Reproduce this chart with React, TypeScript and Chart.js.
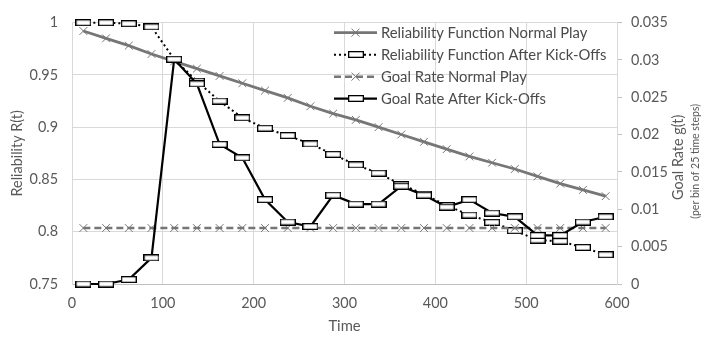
import React, { useEffect, useRef } from "react";
import { Chart, registerables } from "chart.js";

Chart.register(...registerables);

// ---- data ----
const times = [12.5, 37.5, 62.5, 87.5, 112.5, 137.5, 162.5, 187.5, 212.5, 237.5, 262.5, 287.5,
  312.5, 337.5, 362.5, 387.5, 412.5, 437.5, 462.5, 487.5, 512.5, 537.5, 562.5, 587.5];

const reliabilityNormal = [0.992, 0.985, 0.978, 0.970, 0.963, 0.956, 0.949, 0.942, 0.935, 0.928, 0.920, 0.913,
  0.907, 0.900, 0.893, 0.886, 0.879, 0.872, 0.866, 0.860, 0.853, 0.846, 0.840, 0.834];

const reliabilityAfter = [1.0, 1.0, 0.999, 0.996, 0.965, 0.944, 0.925, 0.909, 0.899, 0.892, 0.884, 0.874,
  0.864, 0.856, 0.845, 0.836, 0.825, 0.816, 0.809, 0.801, 0.792, 0.791, 0.785, 0.778];

const goalNormal = [0.0075, 0.0075, 0.0075, 0.0075, 0.0075, 0.0075, 0.0075, 0.0075, 0.0075, 0.0075, 0.0075, 0.0075,
  0.0075, 0.0075, 0.0075, 0.0075, 0.0075, 0.0075, 0.0075, 0.0075, 0.0075, 0.0075, 0.0075, 0.0075];

const goalAfter = [0, 0, 0.0006, 0.0035, 0.0301, 0.0268, 0.0187, 0.0169, 0.0113, 0.0083, 0.0077, 0.0119,
  0.0107, 0.0107, 0.0131, 0.0119, 0.0103, 0.0113, 0.0095, 0.0090, 0.0065, 0.0065, 0.0083, 0.0090];

const xTicks = [0, 100, 200, 300, 400, 500, 600];
const leftTicks = [0.75, 0.8, 0.85, 0.9, 0.95, 1];
const rightTicks = [0, 0.005, 0.01, 0.015, 0.02, 0.025, 0.03, 0.035];

const seriesNames = [
  "Reliability Function Normal Play",
  "Reliability Function After Kick-Offs",
  "Goal Rate Normal Play",
  "Goal Rate After Kick-Offs",
];

const FONT = "Lato, 'Open Sans', sans-serif";
const TEXT = "#595959";
const LEGEND_TEXT = "#4a4a4a";
const GRAY = "#767676";
const GRID = "#d9d9d9";
const TICK_SIZE = 14.4;

function makeDash(): HTMLCanvasElement {
  const c = document.createElement("canvas");
  c.width = 16;
  c.height = 7;
  const ctx = c.getContext("2d")!;
  ctx.fillStyle = "#000000";
  ctx.fillRect(0, 0, 16, 7);
  ctx.fillStyle = "#ffffff";
  ctx.fillRect(1.3, 1.3, 13.4, 4.4);
  return c;
}

export default function App() {
  const ref = useRef<HTMLCanvasElement | null>(null);

  useEffect(() => {
    document.body.style.margin = "0";
    const canvas = ref.current!;
    const dash = makeDash();
    const pts = (vals: number[]) => vals.map((v, i) => ({ x: times[i], y: v }));

    const legendPlugin = {
      id: "customLegendAndTitle",
      afterDraw(chart: any) {
        const ctx = chart.ctx as CanvasRenderingContext2D;
        const ca = chart.chartArea;
        // right axis title
        ctx.save();
        ctx.fillStyle = TEXT;
        ctx.textAlign = "center";
        ctx.textBaseline = "middle";
        ctx.translate(chart.width - 23, (ca.top + ca.bottom) / 2 + 4);
        ctx.rotate(-Math.PI / 2);
        ctx.font = `14.4px ${FONT}`;
        ctx.fillText("Goal Rate g(t)", 0, 0);
        ctx.font = `10.5px ${FONT}`;
        ctx.fillText("(per bin of 25 time steps)", -4, 18);
        ctx.restore();

        // legend
        const x0 = ca.left + 262;
        const x1 = ca.left + 305;
        const xm = (x0 + x1) / 2;
        const rows = [ca.top + 10, ca.top + 32, ca.top + 54, ca.top + 76];
        ctx.save();
        rows.forEach((y, i) => {
          ctx.beginPath();
          ctx.moveTo(x0, y);
          ctx.lineTo(x1, y);
          if (i === 0) { ctx.strokeStyle = GRAY; ctx.lineWidth = 2.8; ctx.setLineDash([]); }
          if (i === 1) { ctx.strokeStyle = "#000"; ctx.lineWidth = 2; ctx.setLineDash([2, 3]); }
          if (i === 2) { ctx.strokeStyle = GRAY; ctx.lineWidth = 2.5; ctx.setLineDash([7, 4]); }
          if (i === 3) { ctx.strokeStyle = "#000"; ctx.lineWidth = 2.2; ctx.setLineDash([]); }
          ctx.stroke();
          ctx.setLineDash([]);
          if (i === 0 || i === 2) {
            ctx.strokeStyle = GRAY;
            ctx.lineWidth = 1;
            ctx.beginPath();
            ctx.moveTo(xm - 4, y - 4); ctx.lineTo(xm + 4, y + 4);
            ctx.moveTo(xm - 4, y + 4); ctx.lineTo(xm + 4, y - 4);
            ctx.stroke();
          } else {
            ctx.drawImage(dash, Math.round(xm - dash.width / 2), Math.round(y - dash.height / 2));
          }
          ctx.fillStyle = LEGEND_TEXT;
          ctx.font = `14.8px ${FONT}`;
          ctx.textAlign = "left";
          ctx.textBaseline = "middle";
          ctx.fillText(seriesNames[i], x1 + 4, y + 1);
        });
        ctx.restore();
      },
    };

    const chart = new Chart(canvas, {
      type: "line",
      data: {
        datasets: [
          {
            label: seriesNames[0],
            data: pts(reliabilityNormal),
            yAxisID: "y",
            borderColor: GRAY,
            borderWidth: 2.8,
            pointStyle: "crossRot",
            pointRadius: 5.5,
            pointBorderColor: GRAY,
            pointBorderWidth: 1,
            order: 3,
            clip: false,
          },
          {
            label: seriesNames[1],
            data: pts(reliabilityAfter),
            yAxisID: "y",
            borderColor: "#000",
            borderWidth: 2,
            borderDash: [2, 3],
            pointStyle: dash as any,
            pointRadius: 4,
            order: 2,
            clip: false,
          },
          {
            label: seriesNames[2],
            data: pts(goalNormal),
            yAxisID: "y1",
            borderColor: GRAY,
            borderWidth: 2.5,
            borderDash: [7, 4],
            pointStyle: "crossRot",
            pointRadius: 5.5,
            pointBorderColor: GRAY,
            pointBorderWidth: 1,
            order: 1,
            clip: false,
          },
          {
            label: seriesNames[3],
            data: pts(goalAfter),
            yAxisID: "y1",
            borderColor: "#000",
            borderWidth: 2.2,
            pointStyle: dash as any,
            pointRadius: 4,
            order: 0,
            clip: false,
          },
        ],
      },
      options: {
        animation: false,
        responsive: false,
        maintainAspectRatio: false,
        devicePixelRatio: 1,
        layout: { padding: { top: 10, left: 0, right: 0, bottom: 0 } },
        plugins: { legend: { display: false }, tooltip: { enabled: false } },
        elements: { line: { tension: 0, fill: false } },
        scales: {
          x: {
            type: "linear",
            min: 0,
            max: 600,
            afterBuildTicks: (s: any) => { s.ticks = xTicks.map((v) => ({ value: v })); },
            afterFit: (s: any) => { s.height = 53; },
            grid: { color: GRID, lineWidth: 1, drawTicks: false },
            border: { color: "#bfbfbf", width: 1 },
            ticks: { color: TEXT, font: { family: FONT, size: TICK_SIZE }, padding: 11, callback: (v: any) => String(v) },
            title: { display: true, text: "Time", color: TEXT, font: { family: FONT, size: 14.8 }, padding: 2 },
          },
          y: {
            type: "linear",
            position: "left",
            min: 0.75,
            max: 1,
            afterBuildTicks: (s: any) => { s.ticks = leftTicks.map((v) => ({ value: v })); },
            afterFit: (s: any) => { s.width = 72; },
            grid: { color: GRID, lineWidth: 1, drawTicks: false },
            border: { color: GRID, width: 1 },
            ticks: { color: TEXT, font: { family: FONT, size: TICK_SIZE }, padding: 14, callback: (v: any) => String(v) },
            title: { display: true, text: "Reliability R(t)", color: TEXT, font: { family: FONT, size: 14.4 }, padding: 9 },
          },
          y1: {
            type: "linear",
            position: "right",
            min: 0,
            max: 0.035,
            afterBuildTicks: (s: any) => { s.ticks = rightTicks.map((v) => ({ value: v })); },
            afterFit: (s: any) => { s.width = 84; },
            grid: { drawOnChartArea: false, drawTicks: true, tickLength: 5, color: "#bfbfbf" },
            border: { color: GRID, width: 1 },
            ticks: { color: TEXT, font: { family: FONT, size: TICK_SIZE }, padding: 9, callback: (v: any) => String(v) },
          },
        },
      },
      plugins: [legendPlugin],
    } as any);

    return () => chart.destroy();
  }, []);

  return (
    <div style={{ width: 701, height: 337 }}>
      <canvas ref={ref} width={701} height={337} style={{ display: "block", width: 701, height: 337 }} />
    </div>
  );
}
